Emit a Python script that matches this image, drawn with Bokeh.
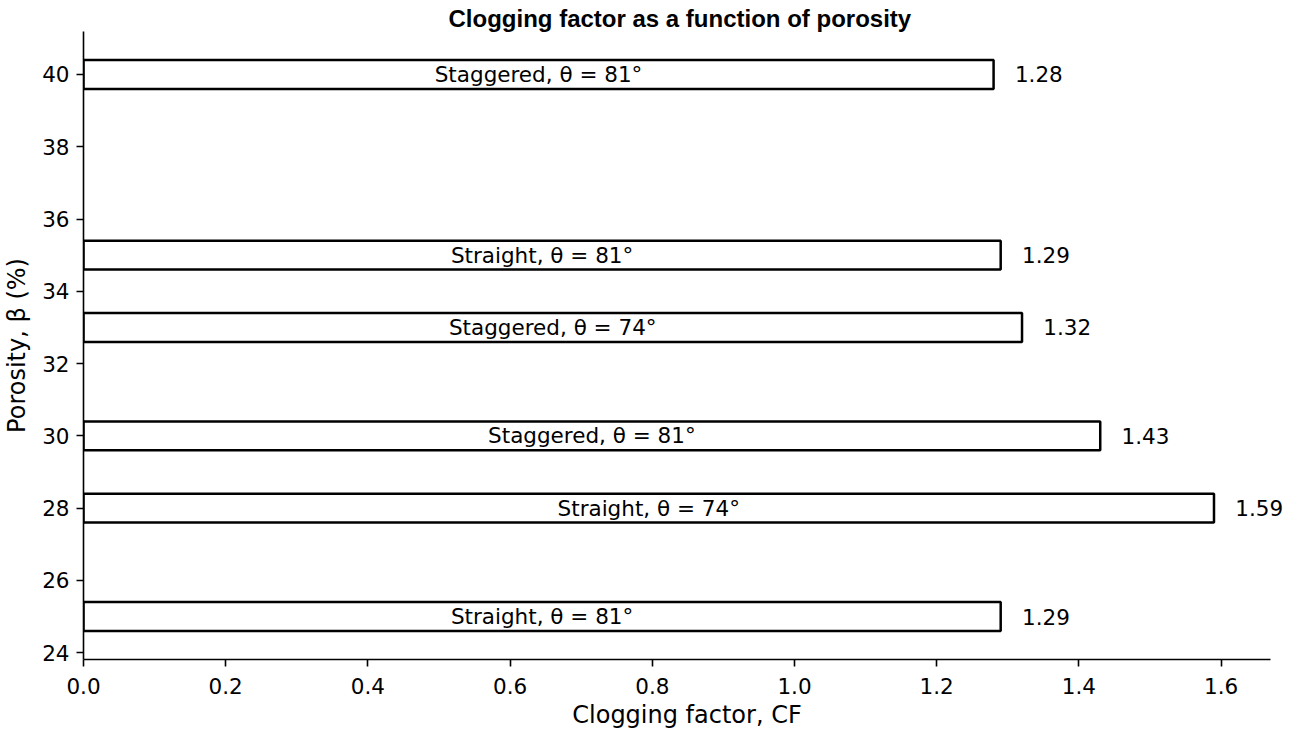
from bokeh.plotting import figure
from bokeh.models import ColumnDataSource, FixedTicker, Range1d, NumeralTickFormatter, Label
from bokeh.core.properties import value
from bokeh.embed import file_html
from bokeh.resources import INLINE

porosity = [25, 28, 30, 33, 35, 40]
clogging_factor = [1.29, 1.59, 1.43, 1.32, 1.29, 1.28]
configs = ["Straight, θ = 81°", "Straight, θ = 74°", "Staggered, θ = 81°",
           "Staggered, θ = 74°", "Straight, θ = 81°", "Staggered, θ = 81°"]
x_ticks = [0.0, 0.2, 0.4, 0.6, 0.8, 1.0, 1.2, 1.4, 1.6]
y_ticks = [24, 26, 28, 30, 32, 34, 36, 38, 40]

src = ColumnDataSource(dict(
    y=porosity,
    cf=clogging_factor,
    mid=[v / 2 for v in clogging_factor],
    cfg=configs,
))

# axis spine ends at 1.6695; frame extends a little further so the last value label is not clipped
p = figure(width=1293, height=731, output_backend="svg", toolbar_location=None,
           x_range=Range1d(0, 1.6976), y_range=Range1d(23.81, 41.19),
           title="Clogging factor as a function of porosity",
           min_border_left=83, min_border_right=3, min_border_top=31, min_border_bottom=71)

p.title.text_font = "Liberation Sans"
p.title.text_font_size = "24px"
p.title.text_font_style = "bold"
p.title.text_color = "black"
p.title.align = "left"
p.title.offset = 365
p.title.standoff = 0

p.hbar(y="y", left=0, right="cf", height=0.8, source=src,
       fill_color="white", line_color="black", line_width=2.5)

p.text(x="mid", y="y", text="cfg", source=src, text_align="center",
       text_baseline="middle", text_font=value("DejaVu Sans"),
       text_font_size="21.5px", text_color="black")

for yv, cf in zip(porosity, clogging_factor):
    p.add_layout(Label(x=cf + 0.03, y=yv, text=f"{cf:.2f}", text_align="left",
                       text_baseline="middle", text_font="DejaVu Sans",
                       text_font_size="21.5px", text_color="black"))

p.xgrid.visible = False
p.ygrid.visible = False
p.outline_line_color = None

p.xaxis.ticker = FixedTicker(ticks=x_ticks)
p.xaxis.formatter = NumeralTickFormatter(format="0.0")
p.xaxis.bounds = (0, 1.6695)
p.yaxis.ticker = FixedTicker(ticks=y_ticks)
p.xaxis.axis_label = "Clogging factor, CF"
p.yaxis.axis_label = "Porosity, β (%)"

for ax in (p.xaxis, p.yaxis):
    ax.axis_line_color = "black"
    ax.axis_line_width = 1.6
    ax.major_tick_line_color = "black"
    ax.major_tick_line_width = 1.6
    ax.major_tick_out = 7
    ax.major_tick_in = 0
    ax.minor_tick_line_color = None
    ax.major_label_text_font = "DejaVu Sans"
    ax.major_label_text_font_size = "21.5px"
    ax.major_label_text_color = "black"
    ax.axis_label_text_font = "DejaVu Sans"
    ax.axis_label_text_font_size = "24px"
    ax.axis_label_text_font_style = "normal"
    ax.axis_label_text_color = "black"

p.xaxis.major_label_standoff = 11
p.xaxis.axis_label_standoff = 4
p.yaxis.major_label_standoff = 7
p.yaxis.axis_label_standoff = 8

open("out.html", "w").write(file_html(p, INLINE))
